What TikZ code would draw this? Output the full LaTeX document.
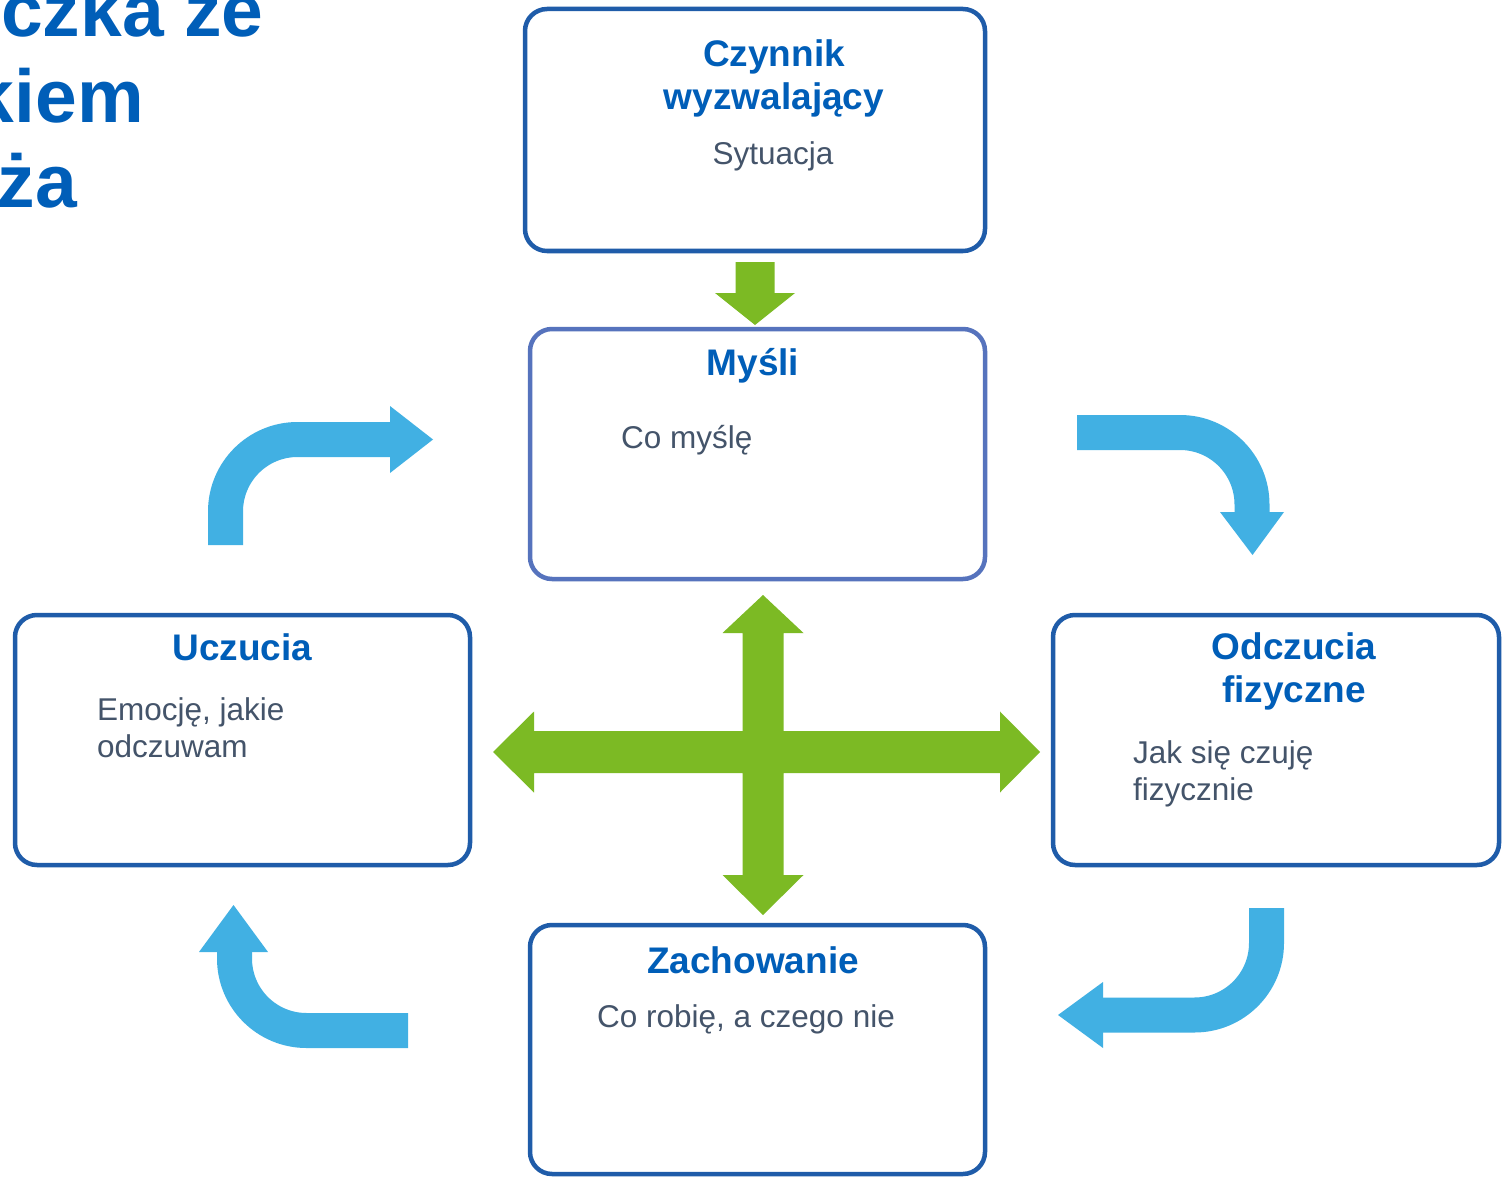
\documentclass[tikz,border=0pt]{standalone}
\usepackage{fontspec}
\setmainfont{Liberation Sans}
\usetikzlibrary{calc}
\definecolor{hblue}{HTML}{005EB8}
\definecolor{frameblue}{HTML}{1F5CA9}
\definecolor{mframe}{HTML}{5673BD}
\definecolor{bodytxt}{HTML}{44546A}
\definecolor{cyanarrow}{HTML}{41B0E3}
\definecolor{greenarrow}{HTML}{7CBA24}
\tikzset{
  box/.style={draw=frameblue, line width=4.5pt, rounded corners=22pt, fill=white, inner sep=0pt, outer sep=0pt},
  head/.style={font=\fontsize{37}{43}\selectfont\bfseries, text=hblue, inner sep=0pt, align=center},
  body/.style={font=\fontsize{31.5}{37}\selectfont, text=bodytxt, inner sep=0pt, align=left},
  titletxt/.style={font=\fontsize{75}{85}\selectfont\bfseries, text=hblue, inner sep=0pt, anchor=base east},
  bshaft/.style={draw=cyanarrow, line width=35pt, rounded corners=72pt},
  bhead/.style={fill=cyanarrow},
  gfill/.style={fill=greenarrow}
}
\begin{document}
\begin{tikzpicture}[x=1pt,y=-1pt]
\useasboundingbox (0,0) rectangle (1502,1177);
\clip (0,0) rectangle (1502,1177);
\fill[white] (0,0) rectangle (1502,1177);

% cut-off title
\node[titletxt] (t1) at (264,37) {czka ze};
\node[titletxt] (t2) at (144,123) {kiem};
\node[titletxt] (t3) at (77,208) {ża};

% boxes
\node[box, minimum width=460, minimum height=242] (czyn) at (755,130) {};
\node[box, draw=mframe, minimum width=455, minimum height=250] (mysl) at (757.5,454) {};
\node[box, minimum width=455, minimum height=250] (ucz) at (242.5,740) {};
\node[box, minimum width=446, minimum height=250] (odcz) at (1276,740) {};
\node[box, minimum width=455, minimum height=249] (zach) at (757.5,1049.5) {};

% texts (for multi-line nodes, base = baseline of the last line)
\node[head, anchor=base] (czynH) at (774,110) {Czynnik\\wyzwalający};
\node[body, anchor=base] (czynB) at (773,165) {Sytuacja};
\node[head, anchor=base] (myslH) at (753,375) {Myśli};
\node[body, anchor=base west] (myslB) at (621,448) {Co myślę};
\node[head, anchor=base] (uczH) at (242.5,660) {Uczucia};
\node[body, anchor=base west] (uczB) at (97,757) {Emocję, jakie\\odczuwam};
\node[head, anchor=base] (odczH) at (1294,702) {Odczucia\\fizyczne};
\node[body, anchor=base west] (odczB) at (1133,800) {Jak się czuję\\fizycznie};
\node[head, anchor=base] (zachH) at (753,973) {Zachowanie};
\node[body, anchor=base] (zachB) at (746,1027) {Co robię, a czego nie};

% green arrow: trigger -> thoughts
\fill[gfill, shift={(czyn.south)}]
  (-19.5,11) -- (19.5,11) -- (19.5,42) -- (40,42) -- (0,74) -- (-40,42) -- (-19.5,42) -- cycle;

% green cross
\coordinate (hub) at ($(mysl.south)!0.5!(zach.north)+(5.5,0)$);
\fill[gfill, shift={(hub)}]
  (0,-157) -- (40.5,-119) -- (20.5,-119) -- (20.5,-21) -- (237,-21) -- (237,-40.5)
  -- (277,0) -- (237,40.5) -- (237,21) -- (20.5,21) -- (20.5,123) -- (40.5,123)
  -- (0,163) -- (-40.5,123) -- (-20.5,123) -- (-20.5,21) -- (-229,21) -- (-229,40.5)
  -- (-270,0) -- (-229,-40.5) -- (-229,-21) -- (-20.5,-21) -- (-20.5,-119) -- (-40.5,-119) -- cycle;

% cyan curved arrows
\coordinate (a1s) at (225.5,545);
\coordinate (a1c) at (225.5,439.5);
\coordinate (a1e) at (391,439.5);
\draw[bshaft] (a1s) -- (a1c) -- (a1e);
\fill[bhead] (390,406) -- (433,439.5) -- (390,473) -- cycle;

\coordinate (a2s) at (1077,432.5);
\coordinate (a2c) at (1252,432.5);
\coordinate (a2e) at (1252,513);
\draw[bshaft] (a2s) -- (a2c) -- (a2e);
\fill[bhead] (1220,512) -- (1284,512) -- (1252.5,555) -- cycle;

\coordinate (a3s) at (1266.5,908);
\coordinate (a3c) at (1266.5,1015);
\coordinate (a3e) at (1102,1015);
\draw[bshaft] (a3s) -- (a3c) -- (a3e);
\fill[bhead] (1103,982) -- (1103,1048) -- (1058,1015) -- cycle;

\coordinate (a4s) at (408,1030.5);
\coordinate (a4c) at (234.5,1030.5);
\coordinate (a4e) at (234.5,951);
\draw[bshaft] (a4s) -- (a4c) -- (a4e);
\fill[bhead] (199,952) -- (268,952) -- (233.5,905) -- cycle;
\end{tikzpicture}
\end{document}
